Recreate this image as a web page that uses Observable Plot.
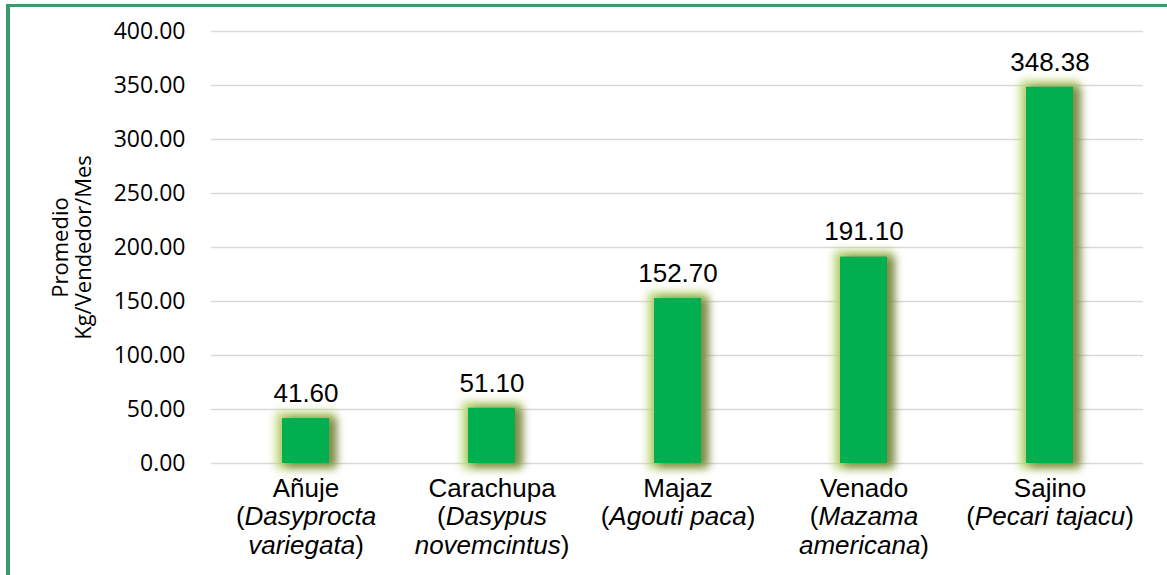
<!DOCTYPE html>
<html>
<head>
<meta charset="utf-8">
<script src="https://cdn.jsdelivr.net/npm/d3@7"></script>
<script src="https://cdn.jsdelivr.net/npm/@observablehq/plot@0.6"></script>
<style>
  html, body { margin: 0; padding: 0; background: #fff; overflow: hidden; }
  #wrap { position: relative; width: 1167px; height: 575px; overflow: hidden; background: #fff; }
  #frame { position: absolute; left: 6px; top: 4px; width: 1200px; height: 620px; border-top: 3px solid #3a9a6b; border-left: 4px solid #3a9a6b; box-sizing: border-box; }
  #chart { position: absolute; left: 0; top: 0; }
</style>
</head>
<body>
<div id="wrap"><div id="frame"></div><div id="chart"></div></div>
<script>
const categories = ["Añuje", "Carachupa", "Majaz", "Venado", "Sajino"];
const scientificLines = [["Dasyprocta", "variegata"], ["Dasypus", "novemcintus"], ["Agouti paca"], ["Mazama", "americana"], ["Pecari tajacu"]];
const values = [41.60, 51.10, 152.70, 191.10, 348.38];
const yTicks = [0, 50, 100, 150, 200, 250, 300, 350, 400];
const yLabelLines = ["Promedio", "Kg/Vendedor/Mes"];

const data = categories.map((c, i) => ({
  category: c,
  value: values[i],
  label: c + "\n(" + scientificLines[i].join("\n") + ")"
}));

const chart = Plot.plot({
  width: 1167,
  height: 575,
  marginLeft: 211,
  marginRight: 24,
  marginTop: 31,
  marginBottom: 112,
  style: { background: "transparent" },
  x: { domain: categories, axis: null, paddingInner: 0.748, paddingOuter: 0.374 },
  y: { domain: [0, 400], axis: null },
  marks: [
    Plot.gridY(yTicks, { stroke: "#d9d9d9", strokeOpacity: 1, strokeWidth: 1.5 }),
    Plot.axisY(yTicks, {
      tickSize: 0, tickPadding: 26, tickFormat: d3.format(".2f"),
      fontSize: 23, fontFamily: "Open Sans", fill: "#000", label: null
    }),
    Plot.text([yLabelLines.join("\n")], {
      frameAnchor: "left", textAnchor: "middle", dx: -139, rotate: -90, text: d => d,
      fontSize: 22, fontFamily: "Open Sans", fill: "#000", lineHeight: 1.05
    }),
    Plot.barY(data, { x: "category", y: "value", fill: "#00b050", inset: 0 }),
    Plot.text(data, {
      x: "category", y: "value", text: d => d.value.toFixed(2), dy: -25,
      fontSize: 26, fontFamily: "Liberation Sans", fill: "#000"
    }),
    Plot.text(data, {
      x: "category", y: d => 0, text: "label", lineAnchor: "top", dy: 13, lineHeight: 1.1,
      fontSize: 26, fontFamily: "Liberation Sans", fill: "#000"
    })
  ]
});

// glow filter for bars
const ns = "http://www.w3.org/2000/svg";
const defs = document.createElementNS(ns, "defs");
defs.innerHTML = `
<filter id="barglow" filterUnits="userSpaceOnUse" x="0" y="0" width="1167" height="575" color-interpolation-filters="sRGB">
  <feMorphology in="SourceAlpha" operator="dilate" radius="6" result="d"/>
  <feGaussianBlur in="d" stdDeviation="4" result="b"/>
  <feFlood flood-color="#bcd778" flood-opacity="1"/>
  <feComposite in2="b" operator="in" result="glow"/>
  <feOffset in="SourceAlpha" dx="6" dy="2" result="o"/>
  <feMorphology in="o" operator="dilate" radius="2" result="od"/>
  <feGaussianBlur in="od" stdDeviation="4" result="ob"/>
  <feFlood flood-color="#4a4a18" flood-opacity="0.55"/>
  <feComposite in2="ob" operator="in" result="shadow"/>
  <feMerge><feMergeNode in="glow"/><feMergeNode in="shadow"/><feMergeNode in="SourceGraphic"/></feMerge>
</filter>`;
chart.insertBefore(defs, chart.firstChild);
chart.querySelectorAll("rect").forEach(r => {
  const g = r.parentNode;
  const fill = (r.getAttribute("fill") || (g && g.getAttribute("fill")) || "").toLowerCase();
  if (fill === "#00b050") r.setAttribute("filter", "url(#barglow)");
});

// italicize scientific names
chart.querySelectorAll("text").forEach(t => {
  const spans = Array.from(t.querySelectorAll("tspan"));
  if (spans.length < 2 || !t.textContent.includes("(")) return;
  spans.forEach((s, i) => {
    if (i === 0) return;
    const m = s.textContent.match(/^(\(?)(.*?)(\)?)$/);
    if (!m) return;
    while (s.firstChild) s.removeChild(s.firstChild);
    if (m[1]) s.appendChild(document.createTextNode(m[1]));
    const it = document.createElementNS(ns, "tspan");
    it.setAttribute("font-style", "italic");
    it.textContent = m[2];
    s.appendChild(it);
    if (m[3]) s.appendChild(document.createTextNode(m[3]));
  });
});

document.getElementById("chart").appendChild(chart);
</script>
</body>
</html>
